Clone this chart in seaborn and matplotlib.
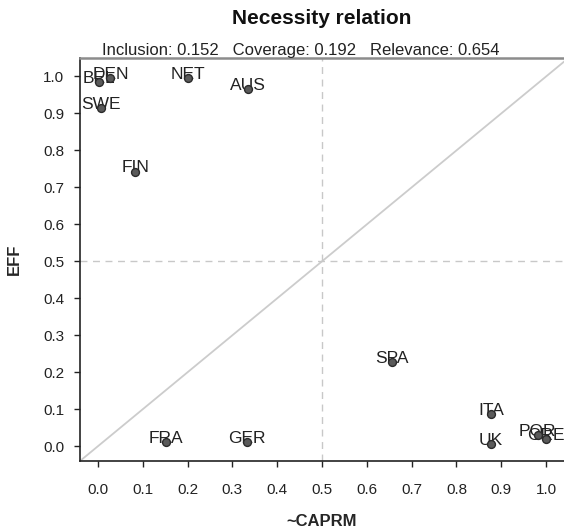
import matplotlib
matplotlib.use("Agg")
import matplotlib.pyplot as plt
import seaborn as sns
import pandas as pd

countries = ["BEL", "DEN", "SWE", "NET", "AUS", "FIN", "SPA", "ITA", "UK", "POR", "GRE", "FRA", "GER"]
caprm_neg = [0.002, 0.028, 0.007, 0.20, 0.335, 0.083, 0.656, 0.877, 0.877, 0.981, 1.00, 0.151, 0.333]
eff = [0.986, 0.995, 0.916, 0.997, 0.965, 0.743, 0.228, 0.086, 0.006, 0.030, 0.019, 0.011, 0.012]
xticks = [0.0, 0.1, 0.2, 0.3, 0.4, 0.5, 0.6, 0.7, 0.8, 0.9, 1.0]
yticks = [0.0, 0.1, 0.2, 0.3, 0.4, 0.5, 0.6, 0.7, 0.8, 0.9, 1.0]

df = pd.DataFrame({"country": countries, "x": caprm_neg, "y": eff})

sns.set_style("white")
plt.rcParams["font.family"] = ["Liberation Sans", "DejaVu Sans"]

fig = plt.figure(figsize=(5.64, 5.30), dpi=100)
ax = fig.add_axes([80 / 564, 1 - 461 / 530, 1 - 80 / 564, (461 - 58) / 530])

ax.set_xlim(-0.04, 1.04)
ax.set_ylim(-0.04, 1.05)

# reference lines
ax.plot([-0.04, 1.05], [-0.04, 1.05], color="#cccccc", lw=1.3, zorder=1)
ax.axvline(0.5, color="#c8c8c8", lw=1, ls=(0, (5, 4)), zorder=1)
ax.axhline(0.5, color="#c8c8c8", lw=1, ls=(0, (5, 4)), zorder=1)

sns.scatterplot(data=df, x="x", y="y", ax=ax, s=32, color="#5a5a5a",
                edgecolor="#2a2a2a", linewidth=1.0, zorder=3, legend=False)

for c, xv, yv in zip(countries, caprm_neg, eff):
    ax.annotate(c, (xv, yv), xytext=(0, -0.7), textcoords="offset points",
                ha="center", va="baseline", fontsize=12.5, color="#222222", zorder=2)

ax.set_xticks(xticks)
ax.set_yticks(yticks)
ax.set_xticklabels([f"{v:.1f}" for v in xticks])
ax.set_yticklabels([f"{v:.1f}" for v in yticks])
ax.tick_params(axis="both", which="both", direction="out", length=4.3, width=1,
               labelsize=11, colors="#222222", bottom=True, left=True)
ax.tick_params(axis="x", pad=11.5)
ax.tick_params(axis="y", pad=7)

for s in ["left", "bottom"]:
    ax.spines[s].set_color("#222222")
    ax.spines[s].set_linewidth(1.2)
ax.spines["top"].set_color("#8c8c8c")
ax.spines["top"].set_linewidth(1.8)
ax.spines["right"].set_visible(False)

ax.set_xlabel("~CAPRM", fontsize=12, fontweight="bold", labelpad=12)
ax.set_ylabel("EFF", fontsize=12, fontweight="bold", labelpad=15)

fig.text(322 / 564, 1 - 18 / 530, "Necessity relation", ha="center", va="center",
         fontsize=15, fontweight="bold", color="#111111")
fig.text(301 / 564, 1 - 50 / 530, "Inclusion: 0.152   Coverage: 0.192   Relevance: 0.654",
         ha="center", va="center", fontsize=12, color="#222222")

fig.savefig("out.png", dpi=100)
